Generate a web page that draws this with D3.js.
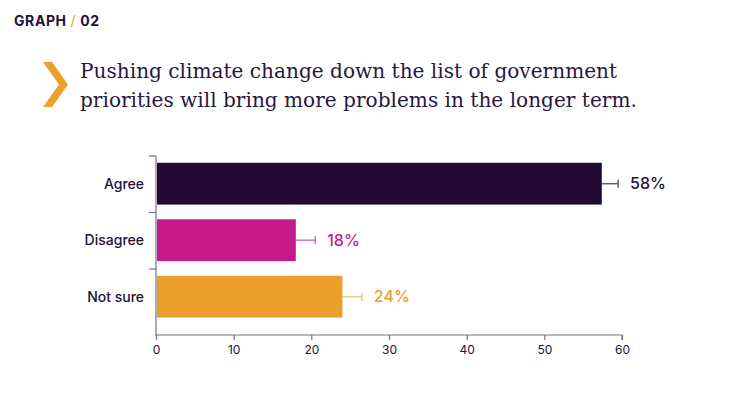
<!DOCTYPE html>
<html>
<head>
  <meta charset="utf-8">
  <script src="https://d3js.org/d3.v7.min.js"></script>
  <style>
    body { margin: 0; background: #fff; }
    svg { display: block; }
  </style>
</head>
<body>
  <div id="chart"></div>
  <script>
    // data
    var categories = ["Agree", "Disagree", "Not sure"];
    var values = [57.4, 18.0, 24.0];
    var errorTops = [59.5, 20.5, 26.5];
    var valueLabels = ["58%", "18%", "24%"];
    var xTicks = [0, 10, 20, 30, 40, 50, 60];
    var barColors = ["#230a35", "#c71b8a", "#eba02c"];
    var errColors = ["#6b5a78", "#dd6cb3", "#f3c67f"];
    var titleLines = [
      "Pushing climate change down the list of government",
      "priorities will bring more problems in the longer term."
    ];

    var w = 750, h = 393;
    var dark = "#23123a";
    var sans = "Inter, Roboto, 'Noto Sans', sans-serif";

    var svg = d3.select("#chart")
      .append("svg")
      .attr("width", w)
      .attr("height", h);

    // header
    var head = svg.append("text")
      .attr("x", 14)
      .attr("y", 26)
      .style("font-family", sans)
      .style("font-weight", 700)
      .style("font-size", "14px")
      .style("letter-spacing", "0.6px")
      .attr("fill", dark);
    head.append("tspan").text("GRAPH ");
    head.append("tspan").attr("fill", "#eba02c").style("font-weight", 400).text("/");
    head.append("tspan").text(" 02");

    // chevron
    svg.append("path")
      .attr("d", "M43,62 L52,62 L68,84.5 L52,107 L43,107 L59,84.5 Z")
      .attr("fill", "#eba02c");

    svg.selectAll("text.title")
      .data(titleLines)
      .enter()
      .append("text")
      .attr("class", "title")
      .attr("x", 80)
      .attr("y", function(d, i) { return 77.5 + i * 29; })
      .style("font-family", "'DejaVu Serif', serif")
      .style("font-size", "20.1px")
      .attr("fill", "#2a1740")
      .text(function(d) { return d; });

    // scales
    var x = d3.scaleLinear().domain([0, 60]).range([156, 622]);
    var y = d3.scaleBand().domain(categories).range([156, 325.5]);
    var barPad = y.step() * 0.12;
    var barH = y.step() * 0.74;

    var axisColor = "#7a6e86";

    // y axis line and ticks at band tops
    svg.append("line")
      .attr("x1", 156).attr("x2", 156)
      .attr("y1", 156).attr("y2", 336)
      .attr("stroke", axisColor).attr("stroke-width", 1.2);
    svg.selectAll("line.ytick")
      .data(categories)
      .enter()
      .append("line")
      .attr("class", "ytick")
      .attr("x1", 149).attr("x2", 156)
      .attr("y1", function(d) { return y(d); })
      .attr("y2", function(d) { return y(d); })
      .attr("stroke", axisColor).attr("stroke-width", 1.2);

    // x axis
    var xAxis = svg.append("g")
      .attr("transform", "translate(0,335)")
      .call(d3.axisBottom(x).tickValues(xTicks).tickSize(5).tickPadding(5));
    xAxis.select(".domain").attr("stroke", axisColor).attr("stroke-width", 1.2)
      .attr("d", "M156,0H622V5");
    xAxis.selectAll(".tick line").attr("stroke", axisColor).attr("stroke-width", 1.2);
    xAxis.selectAll(".tick text")
      .attr("fill", dark)
      .style("font-family", sans)
      .style("font-size", "12px");

    // category labels
    svg.selectAll("text.cat")
      .data(categories)
      .enter()
      .append("text")
      .attr("class", "cat")
      .attr("x", 144)
      .attr("y", function(d) { return y(d) + y.step() * 0.49; })
      .attr("dy", "0.35em")
      .attr("text-anchor", "end")
      .style("font-family", sans)
      .style("font-weight", 500)
      .style("font-size", "14px")
      .attr("fill", dark)
      .text(function(d) { return d; });

    // bars
    svg.selectAll("rect.bar")
      .data(values)
      .enter()
      .append("rect")
      .attr("class", "bar")
      .attr("x", x(0) + 1)
      .attr("y", function(d, i) { return y(categories[i]) + barPad; })
      .attr("width", function(d) { return x(d) - x(0) - 1; })
      .attr("height", barH)
      .attr("fill", function(d, i) { return barColors[i]; });

    // error bars
    svg.selectAll("line.err")
      .data(values)
      .enter()
      .append("line")
      .attr("class", "err")
      .attr("x1", function(d) { return x(d); })
      .attr("x2", function(d, i) { return x(errorTops[i]); })
      .attr("y1", function(d, i) { return y(categories[i]) + barPad + barH / 2; })
      .attr("y2", function(d, i) { return y(categories[i]) + barPad + barH / 2; })
      .attr("stroke", function(d, i) { return errColors[i]; })
      .attr("stroke-width", 1.5);
    svg.selectAll("line.cap")
      .data(values)
      .enter()
      .append("line")
      .attr("class", "cap")
      .attr("x1", function(d, i) { return x(errorTops[i]); })
      .attr("x2", function(d, i) { return x(errorTops[i]); })
      .attr("y1", function(d, i) { return y(categories[i]) + barPad + barH / 2 - 4; })
      .attr("y2", function(d, i) { return y(categories[i]) + barPad + barH / 2 + 4; })
      .attr("stroke", function(d, i) { return errColors[i]; })
      .attr("stroke-width", 1.5);

    // value labels
    svg.selectAll("text.val")
      .data(valueLabels)
      .enter()
      .append("text")
      .attr("class", "val")
      .attr("x", function(d, i) { return x(errorTops[i]) + 12; })
      .attr("y", function(d, i) { return y(categories[i]) + barPad + barH / 2; })
      .attr("dy", "0.36em")
      .style("font-family", sans)
      .style("font-weight", 500)
      .style("font-size", "16px")
      .attr("fill", function(d, i) { return i == 0 ? dark : barColors[i]; })
      .text(function(d) { return d; });
  </script>
</body>
</html>
